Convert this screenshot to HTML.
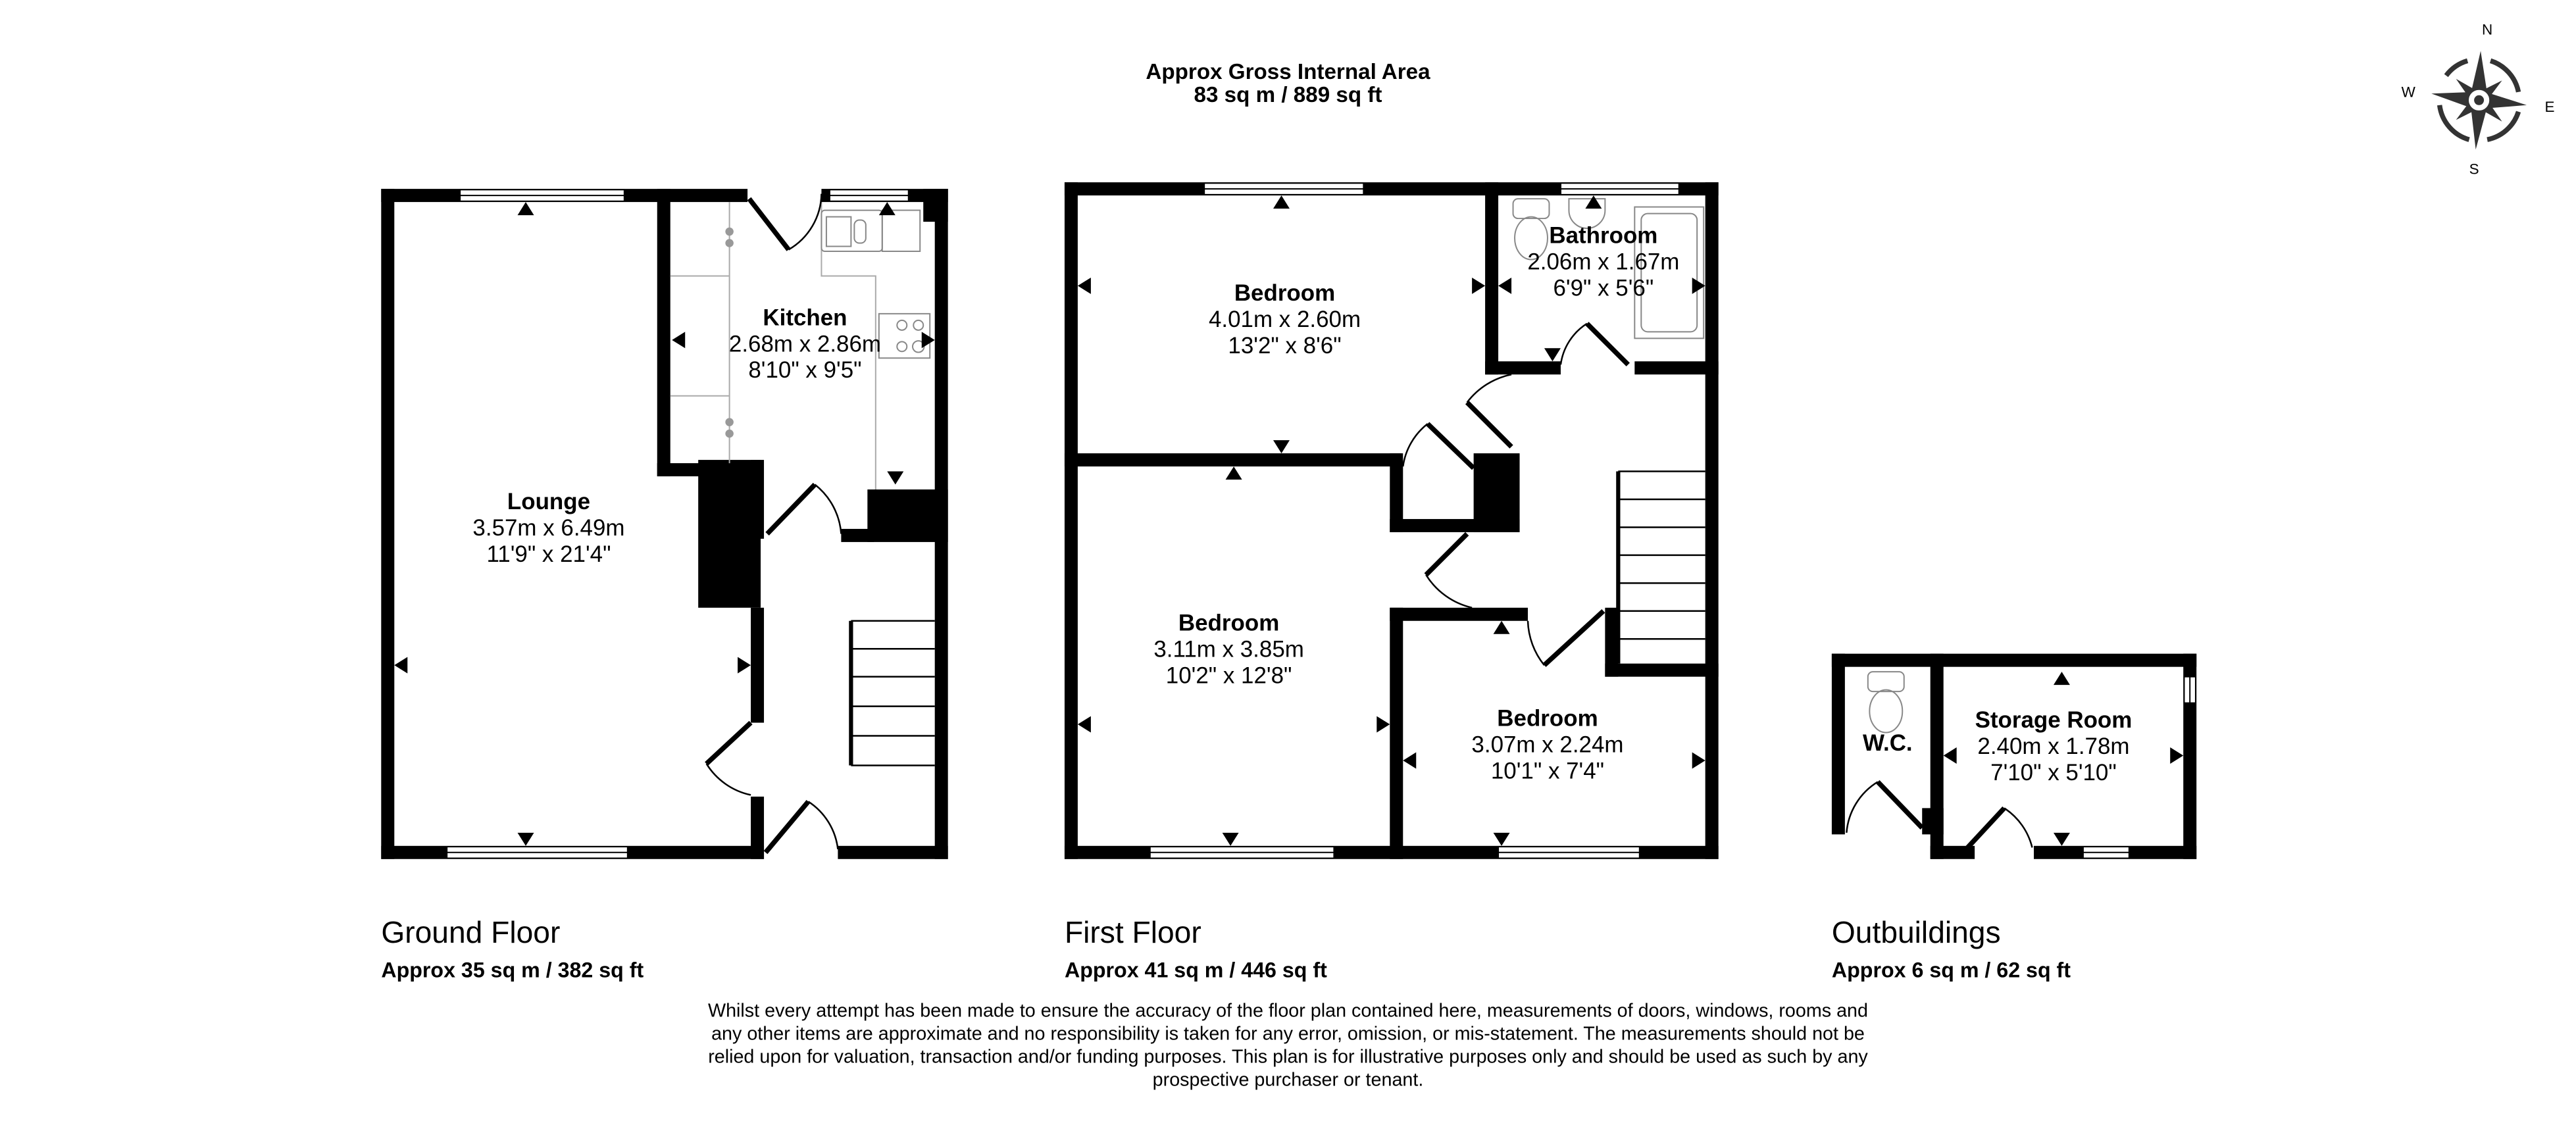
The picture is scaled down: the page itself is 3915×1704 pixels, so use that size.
<!DOCTYPE html>
<html><head><meta charset="utf-8"><style>
html,body{margin:0;padding:0;background:#fff;width:3915px;height:1704px;overflow:hidden}
svg{display:block}
text{font-family:"Liberation Sans",Arial,sans-serif;fill:#000}
.b{font-weight:bold}
</style></head><body>
<svg width="3915" height="1704" viewBox="0 0 1568 682.5" xmlns="http://www.w3.org/2000/svg">
<rect width="1568" height="682.5" fill="#fff"/>
<text x="784" y="48" text-anchor="middle" class="b" font-size="13.3">Approx Gross Internal Area</text>
<text x="784" y="62" text-anchor="middle" class="b" font-size="13.3">83 sq m / 889 sq ft</text>

<!-- compass -->
<g transform="translate(1509,61)" fill="#333" stroke="none">
<path d="M-20,-15 A25,25 0 0 1 -7,-24" stroke="#333" stroke-width="3" fill="none"/>
<path d="M7,-24 A25,25 0 0 1 24,-5" stroke="#333" stroke-width="3" fill="none"/>
<path d="M24,7 A25,25 0 0 1 5,24" stroke="#333" stroke-width="3" fill="none"/>
<path d="M-6,24 A25,25 0 0 1 -24,3" stroke="#333" stroke-width="3" fill="none"/>
<path d="M1,-30 L5,-4 L-5,-4Z M-2,30 L-5,4 L5,4Z M-29,-4 L-4,-5 L-4,5Z M29,3 L4,-5 L4,5Z"/>
<path d="M-14,-13 L0,-5 L-5,0Z M14,-12 L5,0 L0,-5Z M14,13 L0,5 L5,0Z M-14,12 L-5,0 L0,5Z"/>
<circle r="7" fill="#fff" stroke="#333" stroke-width="1.5"/><circle r="3" fill="#333"/>
</g>
<text x="1514" y="21" text-anchor="middle" font-size="9" fill="#333">N</text>
<text x="1466" y="59" text-anchor="middle" font-size="9" fill="#333">W</text>
<text x="1552" y="68" text-anchor="middle" font-size="9" fill="#333">E</text>
<text x="1506" y="106" text-anchor="middle" font-size="9" fill="#333">S</text>

<!-- ================= GROUND FLOOR ================= -->
<g fill="#000">
<rect x="232" y="115" width="8" height="408"/>
<rect x="232" y="115" width="223" height="8"/>
<rect x="500" y="115" width="77" height="8"/>
<rect x="569" y="115" width="8" height="408"/>
<rect x="562" y="115" width="15" height="20"/>
<rect x="232" y="515" width="233" height="8"/>
<rect x="510" y="515" width="67" height="8"/>
<rect x="400" y="115" width="8" height="175"/>
<rect x="400" y="282" width="28" height="8"/>
<rect x="425" y="280" width="38" height="90"/>
<rect x="457" y="280" width="8" height="48"/>
<rect x="457" y="370" width="8" height="70"/>
<rect x="457" y="485" width="8" height="38"/>
<rect x="528" y="298" width="49" height="32"/>
<rect x="512" y="322" width="20" height="8"/>
</g>
<g fill="#fff" stroke="#000" stroke-width="0.8">
<rect x="280" y="115.5" width="100" height="7"/><line x1="280" y1="119" x2="380" y2="119"/>
<rect x="505" y="115.5" width="48" height="7"/><line x1="505" y1="119" x2="553" y2="119"/>
<rect x="272" y="515.5" width="110" height="7"/><line x1="272" y1="519" x2="382" y2="519"/>
</g>
<g fill="none" stroke="#aaa" stroke-width="0.8">
<line x1="408" y1="168" x2="444" y2="168"/>
<line x1="444" y1="123" x2="444" y2="282"/>
<line x1="408" y1="241" x2="444" y2="241"/>
<polyline points="500,123 500,168 533,168 533,298"/>
<rect x="500" y="128" width="37" height="25" rx="2" stroke="#888"/>
<rect x="503" y="132" width="15" height="18" stroke="#888"/>
<rect x="520" y="134" width="7" height="14" rx="3" stroke="#888"/>
<rect x="537" y="128" width="23" height="25" stroke="#888"/>
<rect x="535" y="191" width="31" height="27" stroke="#888"/>
<circle cx="549" cy="198" r="3" stroke="#888"/><circle cx="559" cy="198" r="3" stroke="#888"/>
<circle cx="549" cy="211" r="3" stroke="#888"/><circle cx="559" cy="211" r="3.5" stroke="#888"/>
</g>
<g fill="#999"><circle cx="444" cy="141" r="2.5"/><circle cx="444" cy="148" r="2.5"/><circle cx="444" cy="257" r="2.5"/><circle cx="444" cy="264" r="2.5"/></g>
<g stroke="#000" fill="none">
<line x1="456" y1="121" x2="480" y2="152" stroke-width="3"/>
<path d="M480,152 A40,40 0 0 0 500,118" stroke-width="1"/>
<line x1="467" y1="325" x2="496" y2="295" stroke-width="3"/>
<path d="M496,295 A42,42 0 0 1 512,325" stroke-width="1"/>
<line x1="457" y1="440" x2="430" y2="465" stroke-width="3"/>
<path d="M430,465 A42,42 0 0 0 457,484" stroke-width="1"/>
<line x1="466" y1="519" x2="492" y2="488" stroke-width="3"/>
<path d="M492,488 A40,40 0 0 1 510,517" stroke-width="1"/>
</g>
<g stroke="#000" fill="none" stroke-width="1">
<line x1="518" y1="378" x2="518" y2="466" stroke-width="2.5"/>
<line x1="518" y1="378" x2="569" y2="378"/>
<line x1="518" y1="395" x2="569" y2="395"/>
<line x1="518" y1="412" x2="569" y2="412"/>
<line x1="518" y1="430" x2="569" y2="430"/>
<line x1="518" y1="448" x2="569" y2="448"/>
<line x1="518" y1="466" x2="569" y2="466"/>
</g>
<g fill="#000">
<path d="M315,131 L320,123 L325,131Z"/>
<path d="M315,507 L320,515 L325,507Z"/>
<path d="M248,400 L240,405 L248,410Z"/>
<path d="M449,400 L457,405 L449,410Z"/>
<path d="M417,202 L409,207 L417,212Z"/>
<path d="M561,202 L569,207 L561,212Z"/>
<path d="M535,131 L540,123 L545,131Z"/>
<path d="M540,287 L545,295 L550,287Z"/>
</g>
<text x="334" y="310" text-anchor="middle" class="b" font-size="14">Lounge</text>
<text x="334" y="326" text-anchor="middle" font-size="14">3.57m x 6.49m</text>
<text x="334" y="342" text-anchor="middle" font-size="14">11'9" x 21'4"</text>
<text x="490" y="198" text-anchor="middle" class="b" font-size="14">Kitchen</text>
<text x="490" y="214" text-anchor="middle" font-size="14">2.68m x 2.86m</text>
<text x="490" y="230" text-anchor="middle" font-size="14">8'10" x 9'5"</text>

<!-- ================= FIRST FLOOR ================= -->
<g fill="#000">
<rect x="648" y="111" width="398" height="8"/>
<rect x="648" y="111" width="8" height="412"/>
<rect x="1038" y="111" width="8" height="412"/>
<rect x="648" y="515" width="398" height="8"/>
<rect x="904" y="111" width="8" height="117"/>
<rect x="904" y="220" width="46" height="8"/>
<rect x="995" y="220" width="51" height="8"/>
<rect x="648" y="276" width="205" height="8"/>
<rect x="846" y="276" width="8" height="48"/>
<rect x="846" y="316" width="79" height="8"/>
<rect x="897" y="276" width="28" height="48"/>
<rect x="846" y="370" width="8" height="153"/>
<rect x="846" y="370" width="84" height="8"/>
<rect x="977" y="370" width="8" height="42"/>
<rect x="977" y="404" width="69" height="8"/>
</g>
<g fill="#fff" stroke="#000" stroke-width="0.8">
<rect x="733" y="111.5" width="97" height="7"/><line x1="733" y1="115" x2="830" y2="115"/>
<rect x="950" y="111.5" width="72" height="7"/><line x1="950" y1="115" x2="1022" y2="115"/>
<rect x="700" y="515.5" width="112" height="7"/><line x1="700" y1="519" x2="812" y2="519"/>
<rect x="912" y="515.5" width="86" height="7"/><line x1="912" y1="519" x2="998" y2="519"/>
</g>
<g fill="none" stroke="#888" stroke-width="0.8">
<rect x="921" y="121" width="22" height="12" rx="3"/>
<ellipse cx="932" cy="145" rx="10" ry="13"/>
<path d="M955,121 L977,121 L977,128 A11,11 0 0 1 955,128Z"/>
<rect x="995" y="126" width="42" height="80"/>
<rect x="999" y="130" width="34" height="72" rx="4"/>
</g>
<g stroke="#000" fill="none">
<line x1="991" y1="222" x2="966" y2="197" stroke-width="3"/>
<path d="M966,197 A35,35 0 0 0 950,222" stroke-width="1"/>
<line x1="920" y1="272" x2="893" y2="245" stroke-width="3"/>
<path d="M893,245 A45,45 0 0 1 920,228" stroke-width="1"/>
<line x1="897" y1="285" x2="869" y2="258" stroke-width="3"/>
<path d="M869,258 A40,40 0 0 0 854,284" stroke-width="1"/>
<line x1="893" y1="325" x2="868" y2="350" stroke-width="3"/>
<path d="M868,350 A45,45 0 0 0 896,370" stroke-width="1"/>
<line x1="940" y1="405" x2="976" y2="372" stroke-width="3"/>
<path d="M940,405 A45,45 0 0 1 930,378" stroke-width="1"/>
</g>
<g stroke="#000" fill="none" stroke-width="1">
<line x1="985" y1="287" x2="985" y2="404" stroke-width="2.5"/>
<line x1="985" y1="287" x2="1038" y2="287"/>
<line x1="985" y1="304" x2="1038" y2="304"/>
<line x1="985" y1="321" x2="1038" y2="321"/>
<line x1="985" y1="338" x2="1038" y2="338"/>
<line x1="985" y1="355" x2="1038" y2="355"/>
<line x1="985" y1="372" x2="1038" y2="372"/>
<line x1="985" y1="389" x2="1038" y2="389"/>
</g>
<g fill="#000">
<path d="M775,127 L780,119 L785,127Z"/>
<path d="M775,268 L780,276 L785,268Z"/>
<path d="M664,169 L656,174 L664,179Z"/>
<path d="M896,169 L904,174 L896,179Z"/>
<path d="M746,292 L751,284 L756,292Z"/>
<path d="M744,507 L749,515 L754,507Z"/>
<path d="M664,436 L656,441 L664,446Z"/>
<path d="M838,436 L846,441 L838,446Z"/>
<path d="M920,169 L912,174 L920,179Z"/>
<path d="M1030,169 L1038,174 L1030,179Z"/>
<path d="M965,127 L970,119 L975,127Z"/>
<path d="M940,212 L945,220 L950,212Z"/>
<path d="M909,386 L914,378 L919,386Z"/>
<path d="M909,507 L914,515 L919,507Z"/>
<path d="M862,458 L854,463 L862,468Z"/>
<path d="M1030,458 L1038,463 L1030,468Z"/>
</g>
<text x="782" y="183" text-anchor="middle" class="b" font-size="14">Bedroom</text>
<text x="782" y="199" text-anchor="middle" font-size="14">4.01m x 2.60m</text>
<text x="782" y="215" text-anchor="middle" font-size="14">13'2" x 8'6"</text>
<text x="976" y="148" text-anchor="middle" class="b" font-size="14">Bathroom</text>
<text x="976" y="164" text-anchor="middle" font-size="14">2.06m x 1.67m</text>
<text x="976" y="180" text-anchor="middle" font-size="14">6'9" x 5'6"</text>
<text x="748" y="384" text-anchor="middle" class="b" font-size="14">Bedroom</text>
<text x="748" y="400" text-anchor="middle" font-size="14">3.11m x 3.85m</text>
<text x="748" y="416" text-anchor="middle" font-size="14">10'2" x 12'8"</text>
<text x="942" y="442" text-anchor="middle" class="b" font-size="14">Bedroom</text>
<text x="942" y="458" text-anchor="middle" font-size="14">3.07m x 2.24m</text>
<text x="942" y="474" text-anchor="middle" font-size="14">10'1" x 7'4"</text>

<!-- ================= OUTBUILDINGS ================= -->
<g fill="#000">
<rect x="1115" y="398" width="222" height="8"/>
<rect x="1115" y="398" width="8" height="110"/>
<rect x="1175" y="398" width="8" height="125"/>
<rect x="1170" y="492" width="13" height="16"/>
<rect x="1329" y="398" width="8" height="125"/>
<rect x="1175" y="515" width="27" height="8"/>
<rect x="1238" y="515" width="99" height="8"/>
</g>
<g fill="#fff" stroke="#000" stroke-width="0.8">
<rect x="1329.5" y="412" width="7" height="16"/><line x1="1333" y1="412" x2="1333" y2="428"/>
<rect x="1268" y="515.5" width="28" height="7"/><line x1="1268" y1="519" x2="1296" y2="519"/>
</g>
<g fill="none" stroke="#888" stroke-width="0.8">
<rect x="1137" y="409" width="22" height="12" rx="3"/>
<ellipse cx="1148" cy="433" rx="10" ry="13"/>
</g>
<g stroke="#000" fill="none">
<line x1="1170" y1="504" x2="1143" y2="476" stroke-width="3"/>
<path d="M1143,476 A40,40 0 0 0 1124,507" stroke-width="1"/>
<line x1="1194" y1="520" x2="1220" y2="492" stroke-width="3"/>
<path d="M1220,492 A40,40 0 0 1 1237,516" stroke-width="1"/>
</g>
<g fill="#000">
<path d="M1250,417 L1255,409 L1260,417Z"/>
<path d="M1250,507 L1255,515 L1260,507Z"/>
<path d="M1191,455 L1183,460 L1191,465Z"/>
<path d="M1321,455 L1329,460 L1321,465Z"/>
</g>
<text x="1149" y="457" text-anchor="middle" class="b" font-size="14">W.C.</text>
<text x="1250" y="443" text-anchor="middle" class="b" font-size="14">Storage Room</text>
<text x="1250" y="459" text-anchor="middle" font-size="14">2.40m x 1.78m</text>
<text x="1250" y="475" text-anchor="middle" font-size="14">7'10" x 5'10"</text>

<text x="232" y="574" font-size="18.5">Ground Floor</text>
<text x="232" y="595" class="b" font-size="12.9">Approx 35 sq m / 382 sq ft</text>
<text x="648" y="574" font-size="18.5">First Floor</text>
<text x="648" y="595" class="b" font-size="12.9">Approx 41 sq m / 446 sq ft</text>
<text x="1115" y="574" font-size="18.5">Outbuildings</text>
<text x="1115" y="595" class="b" font-size="12.9">Approx 6 sq m / 62 sq ft</text>

<g font-size="11.5" text-anchor="middle">
<text x="784" y="619">Whilst every attempt has been made to ensure the accuracy of the floor plan contained here, measurements of doors, windows, rooms and</text>
<text x="784" y="633">any other items are approximate and no responsibility is taken for any error, omission, or mis-statement. The measurements should not be</text>
<text x="784" y="647">relied upon for valuation, transaction and/or funding purposes. This plan is for illustrative purposes only and should be used as such by any</text>
<text x="784" y="661">prospective purchaser or tenant.</text>
</g>
</svg>
</body></html>
